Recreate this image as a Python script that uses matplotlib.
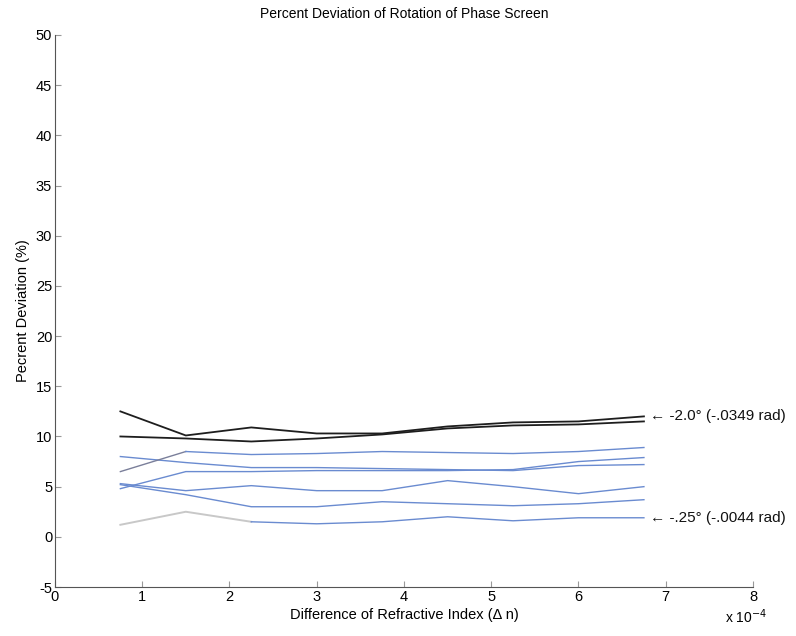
import matplotlib.pyplot as plt
import numpy as np

plt.rcParams['font.family'] = ['Liberation Sans', 'DejaVu Sans']
plt.rcParams['axes.unicode_minus'] = False

# difference of refractive index, x 10^-4
dn = [0.75, 1.5, 2.25, 3.0, 3.75, 4.5, 5.25, 6.0, 6.75]

# black curves (largest rotation)
dev_a = [12.5, 10.1, 10.9, 10.3, 10.3, 11.0, 11.4, 11.5, 12.0]
dev_b = [10.0, 9.8, 9.5, 9.8, 10.2, 10.8, 11.1, 11.2, 11.5]

# blue curves
dev_c = [8.0, 7.4, 6.9, 6.9, 6.8, 6.7, 6.6, 7.1, 7.2]
dev_d = [6.5, 8.5, 8.2, 8.3, 8.5, 8.4, 8.3, 8.5, 8.9]
dev_e = [4.8, 6.5, 6.5, 6.6, 6.6, 6.6, 6.7, 7.5, 7.9]
dev_f = [5.3, 4.6, 5.1, 4.6, 4.6, 5.6, 5.0, 4.3, 5.0]
dev_g = [5.2, 4.2, 3.0, 3.0, 3.5, 3.3, 3.1, 3.3, 3.7]
dev_h = [1.2, 2.5, 1.5, 1.3, 1.5, 2.0, 1.6, 1.9, 1.9]

xticks = [0, 1, 2, 3, 4, 5, 6, 7, 8]
yticks = [-5, 0, 5, 10, 15, 20, 25, 30, 35, 40, 45, 50]

blue = '#6a8bd0'
dark = '#1e1e1e'

fig = plt.figure(figsize=(7.96, 6.36), dpi=100)
ax = fig.add_axes([0.069, 0.077, 0.877, 0.868])

ax.plot(dn, dev_a, color=dark, lw=1.3)
ax.plot(dn, dev_b, color=dark, lw=1.3)
for d in [dev_c, dev_e, dev_f, dev_g]:
    ax.plot(dn, d, color=blue, lw=1.0)
ax.plot(dn[:2], dev_d[:2], color='#7a7f9a', lw=1.0)
ax.plot(dn[1:], dev_d[1:], color=blue, lw=1.0)
ax.plot(dn[:3], dev_h[:3], color='#c8c8c8', lw=1.4)
ax.plot(dn[2:], dev_h[2:], color=blue, lw=1.0)

ax.text(dn[-1] + 0.07, dev_a[-1], '\u2190 -2.0\u00b0 (-.0349 rad)', fontsize=11,
        va='center', ha='left', color='#111111')
ax.text(dn[-1] + 0.07, dev_h[-1], '\u2190 -.25\u00b0 (-.0044 rad)', fontsize=11,
        va='center', ha='left', color='#111111')

ax.set_xlim(0, 8)
ax.set_ylim(-5, 50)
ax.set_xticks(xticks)
ax.set_yticks(yticks)
ax.spines['top'].set_visible(False)
ax.spines['right'].set_visible(False)
ax.spines['left'].set_color('#555555')
ax.spines['bottom'].set_color('#555555')
ax.tick_params(direction='in', length=4, width=0.8, color='#999999',
               labelsize=10.5, pad=2)

ax.set_title('Percent Deviation of Rotation of Phase Screen', fontsize=10, pad=12)
ax.set_xlabel('Difference of Refractive Index (\u0394 n)', fontsize=10.5, labelpad=3)
ax.set_ylabel('Pecrent Deviation (%)', fontsize=10.5, labelpad=4)
fig.text(0.937, 0.015, r'x 10$^{-4}$', fontsize=10, ha='center', va='bottom')

fig.savefig('out.png', dpi=100)
